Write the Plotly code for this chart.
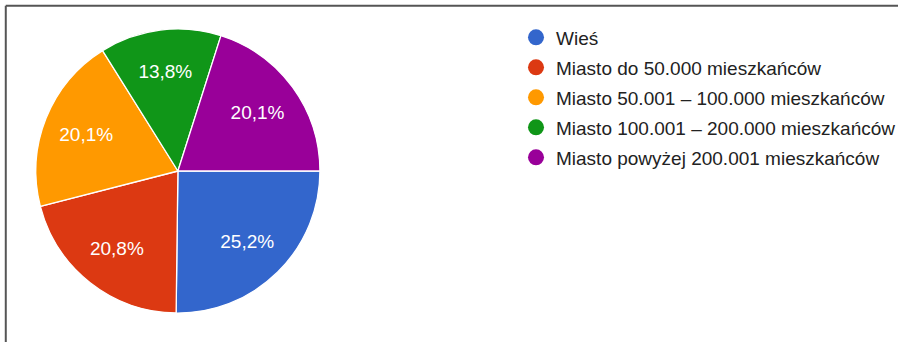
import plotly.graph_objects as go

W, H = 901, 342

categories = [
    "Wieś",
    "Miasto do 50.000 mieszkańców",
    "Miasto 50.001 – 100.000 mieszkańców",
    "Miasto 100.001 – 200.000 mieszkańców",
    "Miasto powyżej 200.001 mieszkańców",
]
values = [25.2, 20.8, 20.1, 13.8, 20.1]
colors = ["#3366CC", "#DC3912", "#FF9900", "#109618", "#990099"]

FONT = "Liberation Sans, Arial, sans-serif"

cx, cy, r = 178.5, 171.0, 142.5
domain = dict(x=[(cx - r) / W, (cx + r) / W], y=[(H - cy - r) / H, (H - cy + r) / H])

fig = go.Figure()
# filled pie slices
fig.add_trace(go.Pie(
    labels=categories,
    values=values,
    marker=dict(colors=colors, line=dict(color="white", width=1.3)),
    sort=False,
    direction="clockwise",
    rotation=90,
    textinfo="none",
    showlegend=False,
    hoverinfo="label+percent",
    domain=domain,
))
# transparent overlay carrying the percentage labels (placed further out)
fig.add_trace(go.Pie(
    labels=categories,
    values=values,
    hole=0.39,
    marker=dict(colors=["rgba(0,0,0,0)"] * len(values), line=dict(width=0)),
    sort=False,
    direction="clockwise",
    rotation=90,
    texttemplate="%{percent:.1%}",
    textposition="inside",
    insidetextorientation="horizontal",
    textfont=dict(family=FONT, size=19, color="white"),
    showlegend=False,
    hoverinfo="skip",
    domain=domain,
))

for i, (name, col) in enumerate(zip(categories, colors)):
    fig.add_trace(go.Scatter(
        x=[None], y=[None], mode="markers", name=name,
        legendgroup=f"g{i}",
        marker=dict(color=col, size=19, symbol="circle"),
        hoverinfo="skip",
    ))

fig.update_layout(
    width=W, height=H,
    margin=dict(l=0, r=0, t=0, b=0),
    paper_bgcolor="white", plot_bgcolor="white",
    separators=", ",
    font=dict(family=FONT, color="#222222"),
    xaxis=dict(visible=False), yaxis=dict(visible=False),
    legend=dict(
        x=518 / W, y=1 - 18.5 / H, xanchor="left", yanchor="top",
        font=dict(family=FONT, size=19, color="#222222"),
        tracegroupgap=2.3,
        itemsizing="trace",
        bgcolor="rgba(0,0,0,0)",
    ),
    shapes=[
        dict(type="line", xref="paper", yref="paper",
             x0=5.8 / W, x1=1, y0=1 - 5.8 / H, y1=1 - 5.8 / H,
             line=dict(color="#555555", width=2)),
        dict(type="line", xref="paper", yref="paper",
             x0=5.8 / W, x1=5.8 / W, y0=0, y1=1 - 5.8 / H,
             line=dict(color="#555555", width=2)),
    ],
)

fig.write_html(
    "out.html",
    config={"displayModeBar": False},
    post_script="document.body.style.margin='0';document.body.style.overflow='hidden';",
)
